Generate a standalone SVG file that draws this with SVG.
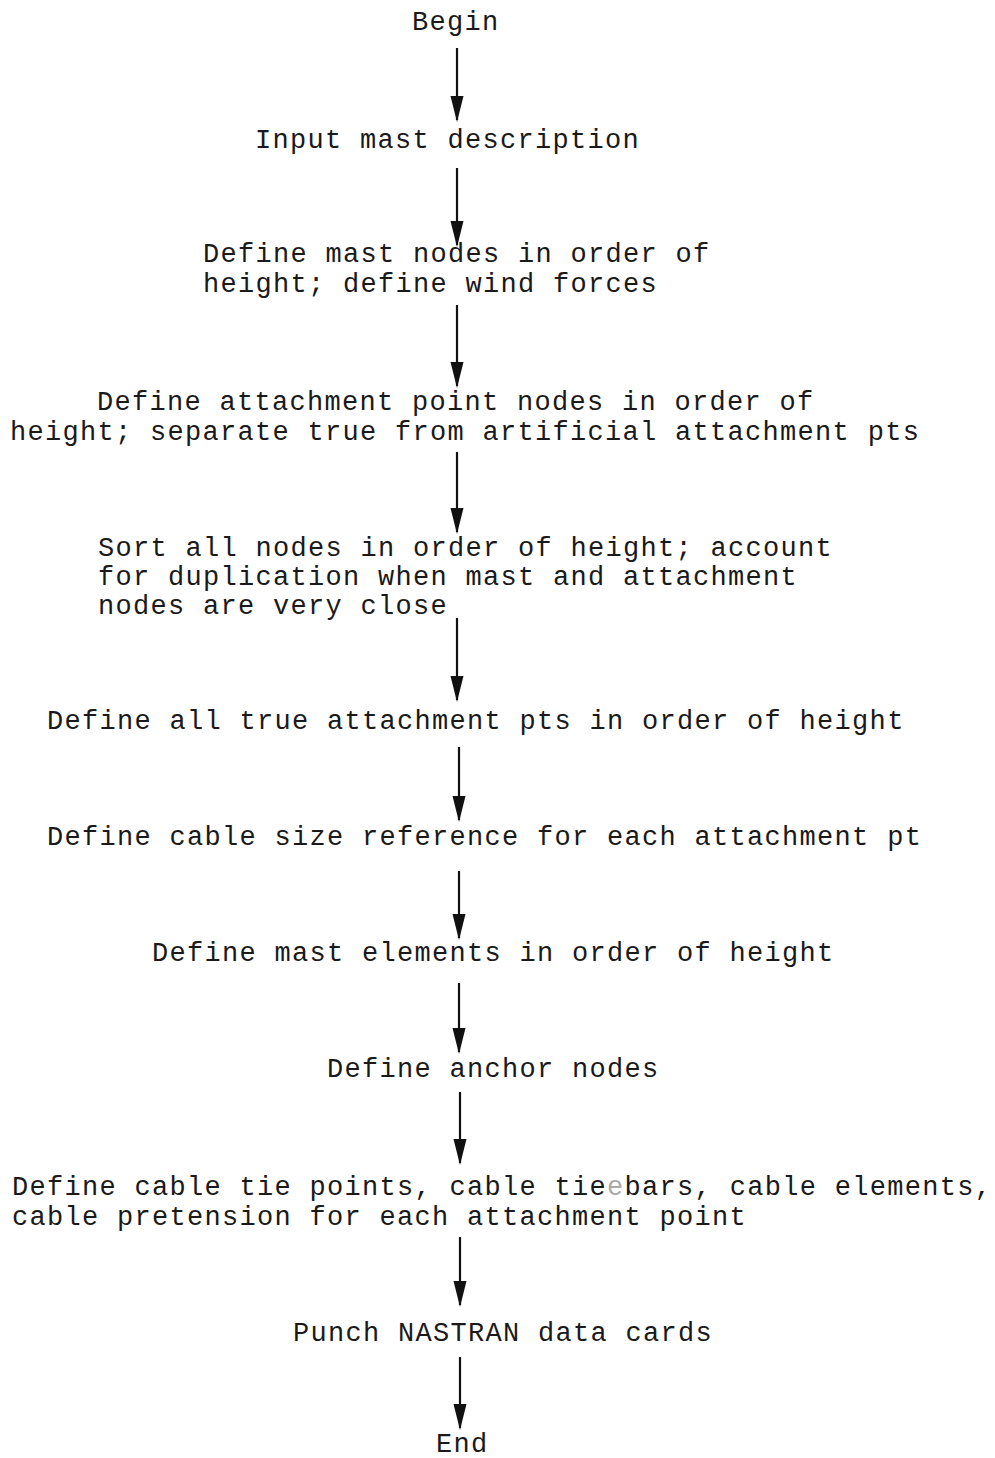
<svg xmlns="http://www.w3.org/2000/svg" width="995" height="1458" viewBox="0 0 995 1458">
<style>
text{font-family:"Liberation Mono","Courier New",monospace;font-size:27px;letter-spacing:1.3px;fill:#1a1a1a}
.c line{stroke:#111;stroke-width:2.2}
.faded{fill:#aaa}
</style>
<defs>
<marker id="ah" markerUnits="userSpaceOnUse" markerWidth="30" markerHeight="16" refX="26" refY="8" orient="auto" viewBox="0 0 30 16">
<path d="M2,1.5 L2,14.5 L28,8 Z" fill="#111"/>
</marker>
</defs>
<rect width="995" height="1458" fill="#fff"/>
<g id="n1"><text x="412" y="30">Begin</text></g>
<g id="n2"><text x="255" y="148">Input mast description</text></g>
<g id="n3"><text x="203" y="262">Define mast nodes in order of</text><text x="203" y="292">height; define wind forces</text></g>
<g id="n4"><text x="97" y="410">Define attachment point nodes in order of</text><text x="10" y="440">height; separate true from artificial attachment pts</text></g>
<g id="n5"><text x="98" y="556">Sort all nodes in order of height; account</text><text x="98" y="585">for duplication when mast and attachment</text><text x="98" y="614">nodes are very close</text></g>
<g id="n6"><text x="47" y="729">Define all true attachment pts in order of height</text></g>
<g id="n7"><text x="47" y="845">Define cable size reference for each attachment pt</text></g>
<g id="n8"><text x="152" y="961">Define mast elements in order of height</text></g>
<g id="n9"><text x="327" y="1077">Define anchor nodes</text></g>
<g id="n10"><text x="12" y="1195">Define cable tie points, cable tie<tspan class="faded">e</tspan>bars, cable elements,</text><text x="12" y="1225">cable pretension for each attachment point</text></g>
<g id="n11"><text x="293" y="1341">Punch NASTRAN data cards</text></g>
<g id="n12"><text x="436" y="1452">End</text></g>
<g id="connectors" class="c">
<line x1="457" y1="48" x2="457" y2="120" marker-end="url(#ah)"/>
<line x1="457" y1="168" x2="457" y2="245" marker-end="url(#ah)"/>
<line x1="457" y1="305" x2="457" y2="386" marker-end="url(#ah)"/>
<line x1="457" y1="452" x2="457" y2="532" marker-end="url(#ah)"/>
<line x1="457" y1="618" x2="457" y2="700" marker-end="url(#ah)"/>
<line x1="459" y1="747" x2="459" y2="820" marker-end="url(#ah)"/>
<line x1="459" y1="871" x2="459" y2="938" marker-end="url(#ah)"/>
<line x1="459" y1="983" x2="459" y2="1052" marker-end="url(#ah)"/>
<line x1="460" y1="1092" x2="460" y2="1163" marker-end="url(#ah)"/>
<line x1="460" y1="1237" x2="460" y2="1305" marker-end="url(#ah)"/>
<line x1="460" y1="1357" x2="460" y2="1428" marker-end="url(#ah)"/>
</g>
</svg>
